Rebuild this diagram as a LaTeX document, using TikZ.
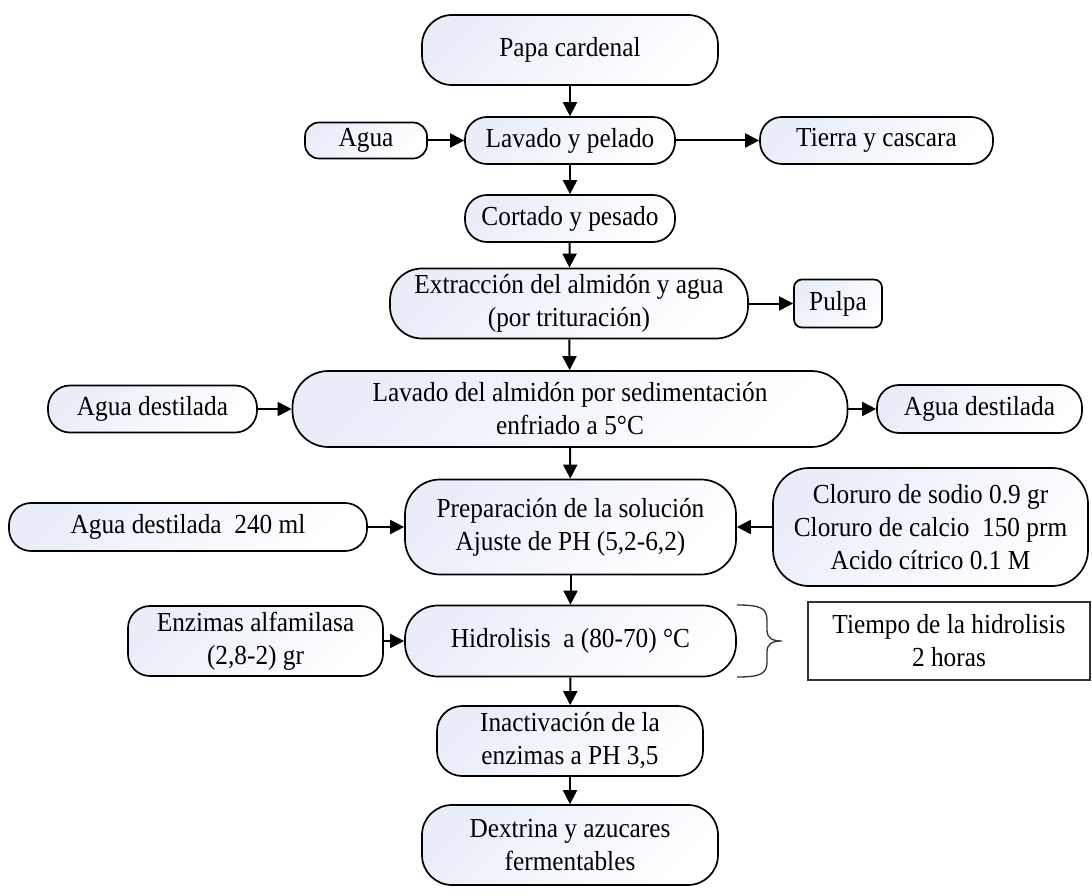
\documentclass[tikz,border=0pt]{standalone}
\usepackage{fontspec}
\setmainfont{Liberation Serif}[FakeStretch=0.92]
\usetikzlibrary{arrows.meta}
\definecolor{boxblue}{RGB}{232,237,248}
\definecolor{framegray}{RGB}{50,50,50}
\begin{document}
\begin{tikzpicture}[x=1pt,y=-1pt,
  box/.style={draw, line width=1.7pt, align=center, inner sep=0pt,
    font=\fontsize{27.5}{33}\selectfont,
    top color=boxblue, bottom color=white, shading angle=45},
  arr/.style={-{Triangle[length=14pt,width=14pt]}, line width=2pt},
]
\useasboundingbox (0,0) rectangle (1092,896);

\node[box, minimum width=296, minimum height=70, rounded corners=30] (papa) at (570,50) {Papa cardenal};
\node[box, minimum width=210, minimum height=47, rounded corners=22] (lav) at (570,140.5) {Lavado y pelado};
\node[box, minimum width=122, minimum height=36, rounded corners=14] (agua) at (366,140.5) {Agua};
\node[box, minimum width=233, minimum height=47, rounded corners=22] (tierra) at (876.5,140.5) {Tierra y cascara};
\node[box, minimum width=210, minimum height=47, rounded corners=22] (cort) at (570,218.5) {Cortado y pesado};
\node[box, minimum width=358, minimum height=70, rounded corners=32] (extr) at (569,303.5) {Extracción del almidón y agua\\(por trituración)};
\node[box, minimum width=88, minimum height=48, rounded corners=8] (pulpa) at (838,303.5) {Pulpa};
\node[box, minimum width=555, minimum height=76, rounded corners=36] (lalm) at (570,409) {Lavado del almidón por sedimentación\\enfriado a 5°C};
\node[box, minimum width=209, minimum height=47, rounded corners=22] (ad1) at (152.5,409) {Agua destilada};
\node[box, minimum width=205, minimum height=48, rounded corners=22] (ad2) at (979.5,409) {Agua destilada};
\node[box, minimum width=331, minimum height=95, rounded corners=35] (prep) at (570.5,527) {Preparación de la solución\\Ajuste de PH (5,2-6,2)};
\node[box, minimum width=358, minimum height=48, rounded corners=22] (ad240) at (188,527) {Agua destilada\ \ 240 ml};
\node[box, minimum width=315, minimum height=118, rounded corners=36] (clor) at (930.5,527) {Cloruro de sodio 0.9 gr\\Cloruro de calcio\ \ 150 prm\\Acido cítrico 0.1 M};
\node[box, minimum width=331, minimum height=71, rounded corners=33] (hidro) at (570.5,641) {Hidrolisis\ \ a (80-70) °C};
\node[box, minimum width=255, minimum height=70, rounded corners=22] (enz) at (255.5,641) {Enzimas alfamilasa\\(2,8-2) gr};
\node[draw=framegray, line width=1.3pt, align=center, inner sep=0pt,
  font=\fontsize{27.5}{33}\selectfont, minimum width=282, minimum height=78] (tiempo) at (949,641) {Tiempo de la hidrolisis\\2 horas};
\node[box, minimum width=266, minimum height=70, rounded corners=25] (inact) at (570,741) {Inactivación de la\\enzimas a PH 3,5};
\node[box, minimum width=296, minimum height=80, rounded corners=30] (dext) at (570,845) {Dextrina y azucares\\fermentables};

\draw[arr] (papa) -- (lav);
\draw[arr] (agua) -- (lav);
\draw[arr] (lav) -- (tierra);
\draw[arr] (lav) -- (cort);
\draw[arr] (cort) -- (extr);
\draw[arr] (extr) -- (pulpa);
\draw[arr] (extr) -- (lalm);
\draw[arr] (ad1) -- (lalm);
\draw[arr] (lalm) -- (ad2);
\draw[arr] (lalm) -- (prep);
\draw[arr] (ad240) -- (prep);
\draw[arr] (clor) -- (prep);
\draw[arr] (prep) -- (hidro);
\draw[arr] (enz) -- (hidro);
\draw[arr] (hidro) -- (inact);
\draw[arr] (inact) -- (dext);

% brace
\coordinate (bt) at (737,605);
\coordinate (bb) at (737,677);
\draw[line width=1.3pt, framegray] (bt) .. controls (760,605) and (767,608) .. (767,620) -- (767,630)
  .. controls (767,638) and (772,641) .. (782,641)
  .. controls (772,641) and (767,644) .. (767,652) -- (767,662)
  .. controls (767,674) and (760,677) .. (bb);
\end{tikzpicture}
\end{document}
